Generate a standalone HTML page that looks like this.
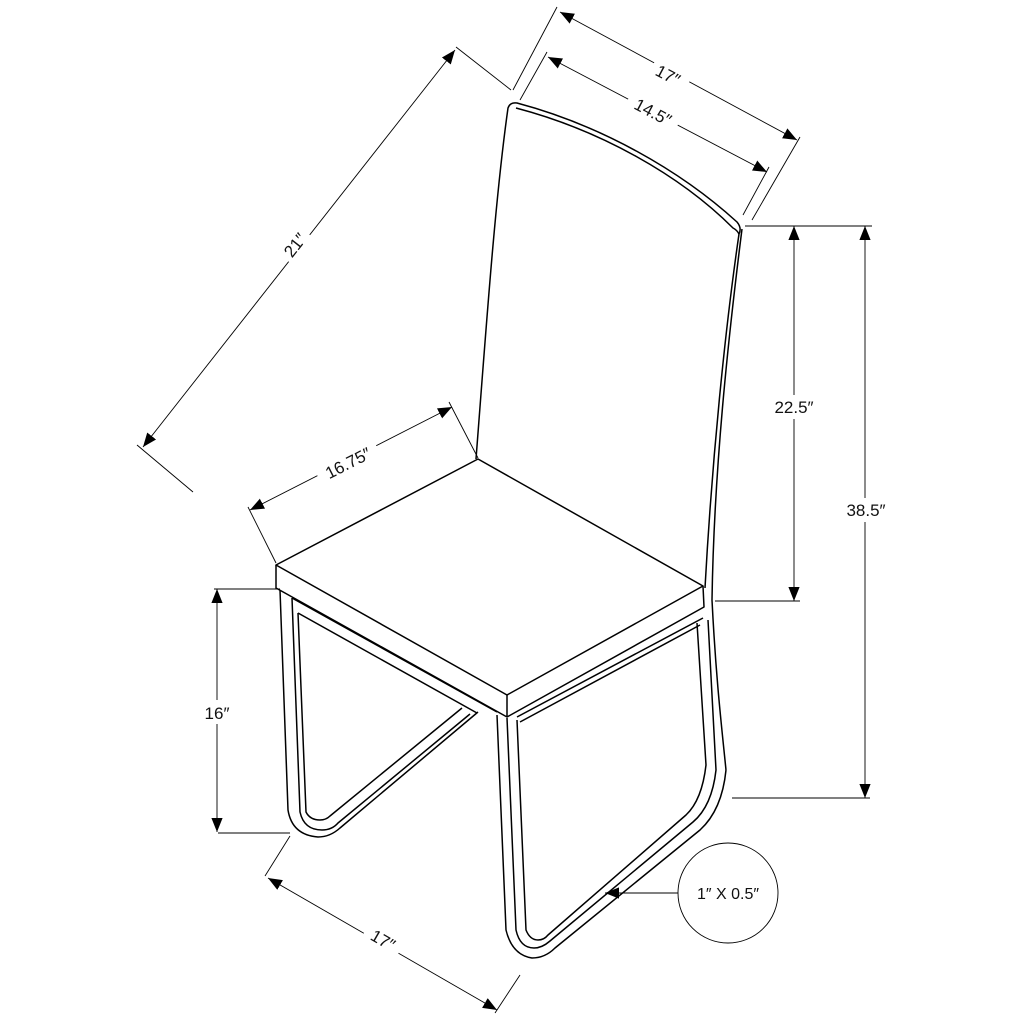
<!DOCTYPE html>
<html><head><style>
html,body{margin:0;padding:0;background:#fff;}
svg{display:block;}
text{font-family:"Liberation Sans",sans-serif;font-size:17px;fill:#111;}
</style></head><body>
<svg width="1024" height="1024" viewBox="0 0 1024 1024" xmlns="http://www.w3.org/2000/svg">
<defs>
<marker id="a" viewBox="0 0 10 10" refX="10" refY="5" markerWidth="14" markerHeight="14" markerUnits="userSpaceOnUse" orient="auto-start-reverse"><path d="M0,1 L10,5 L0,9 z" fill="#000"/></marker>
</defs>
<g fill="none" stroke="#000" stroke-width="1.5" stroke-linejoin="round">
<!-- backrest -->
<path d="M476,459 C486,330 495,200 508,108 Q510,102 517,103 C600,125 680,170 737,222 Q742,228 739,234 C725,330 712,460 705,588"/>
<path d="M516,108 C600,130 680,175 733,228 Q737,230 739,234"/>
<path d="M742,229 C728,340 714,470 712,600 C716,680 722,730 726,770"/>
<!-- seat -->
<path d="M276,565 L478,459 L703,586 L507,695 Z"/>
<path d="M276,565 L276,588 L507,717 L507,695"/>
<path d="M507,717 L704,607 L703,586"/>
<!-- rails below seat -->
<path d="M292,598 L497,712"/>
<path d="M298,613 L477,713"/>
<path d="M517,717 L703,618"/>
<path d="M520,722 L700,625"/>
<!-- left leg -->
<path d="M280,590 L288,810 Q292,835 318,837 Q330,837 340,828 L478,712"/>
<path d="M292,598 L300,812 Q304,830 322,830 Q332,830 338,823 L470,714"/>
<path d="M298,613 L306,812 Q310,820 320,820 Q326,820 330,816 L462,708"/>
<!-- front leg -->
<path d="M497,715 L506,930 Q512,955 532,958 Q545,958 555,948 L700,830 Q722,810 726,770"/>
<path d="M507,718 L516,930 Q520,948 534,948 Q542,948 550,941 L693,822 Q712,806 716,770 L708,620"/>
<path d="M517,720 L526,930 Q530,940 538,940 Q544,940 548,935 L686,815 Q702,800 706,765 L697,623"/>
</g>
<g fill="none" stroke="#000" stroke-width="0.9">
<line x1="455" y1="50" x2="143" y2="447" marker-start="url(#a)" marker-end="url(#a)"/>
<line x1="456" y1="47" x2="511" y2="90"/>
<line x1="137" y1="445" x2="193" y2="492"/>
<line x1="560" y1="12" x2="797" y2="140" marker-start="url(#a)" marker-end="url(#a)"/>
<line x1="557" y1="7" x2="513" y2="90"/>
<line x1="800" y1="137" x2="752" y2="220"/>
<line x1="548" y1="57" x2="767" y2="172" marker-start="url(#a)" marker-end="url(#a)"/>
<line x1="547" y1="52" x2="520" y2="100"/>
<line x1="769" y1="167" x2="743" y2="215"/>
<line x1="794" y1="226" x2="794" y2="601" marker-start="url(#a)" marker-end="url(#a)"/>
<line x1="745" y1="226" x2="800" y2="226"/>
<line x1="715" y1="601" x2="800" y2="601"/>
<line x1="865" y1="226" x2="865" y2="798" marker-start="url(#a)" marker-end="url(#a)"/>
<line x1="800" y1="226" x2="872" y2="226"/>
<line x1="732" y1="798" x2="870" y2="798"/>
<line x1="217" y1="589" x2="217" y2="832" marker-start="url(#a)" marker-end="url(#a)"/>
<line x1="214" y1="589" x2="280" y2="589"/>
<line x1="218" y1="833" x2="290" y2="833"/>
<line x1="452" y1="407" x2="250" y2="510" marker-start="url(#a)" marker-end="url(#a)"/>
<line x1="449" y1="402" x2="478" y2="458"/>
<line x1="248" y1="507" x2="276" y2="563"/>
<line x1="268" y1="878" x2="497" y2="1010" marker-start="url(#a)" marker-end="url(#a)"/>
<line x1="290" y1="836" x2="265" y2="876"/>
<line x1="520" y1="975" x2="495" y2="1013"/>
<circle cx="728" cy="893" r="50"/>
<line x1="678" y1="893" x2="605" y2="893" marker-end="url(#a)"/>
</g>
<g fill="#fff" stroke="none">
<rect x="278" y="225" width="34" height="40" transform="rotate(-52 295 245)"/>
<rect x="650" y="63" width="40" height="24" transform="rotate(28 668 75)"/>
<rect x="625" y="100" width="56" height="24" transform="rotate(28 653 112)"/>
<rect x="760" y="395" width="68" height="24"/>
<rect x="838" y="498" width="56" height="24"/>
<rect x="195" y="700" width="44" height="24"/>
<rect x="315" y="450" width="66" height="26" transform="rotate(-27 348 463)"/>
<rect x="363" y="928" width="40" height="24" transform="rotate(30 383 940)"/>
</g>
<text x="295" y="251" text-anchor="middle" transform="rotate(-52 295 245)">21″</text>
<text x="668" y="81" text-anchor="middle" transform="rotate(28 668 75)">17″</text>
<text x="653" y="118" text-anchor="middle" transform="rotate(28 653 112)">14.5″</text>
<text x="794" y="413" text-anchor="middle">22.5″</text>
<text x="866" y="516" text-anchor="middle">38.5″</text>
<text x="217" y="719" text-anchor="middle">16″</text>
<text x="348" y="469" text-anchor="middle" transform="rotate(-27 348 463)">16.75″</text>
<text x="383" y="946" text-anchor="middle" transform="rotate(30 383 940)">17″</text>
<text x="728" y="899" text-anchor="middle" style="font-size:16px">1″ X 0.5″</text>
</svg>
</body></html>
